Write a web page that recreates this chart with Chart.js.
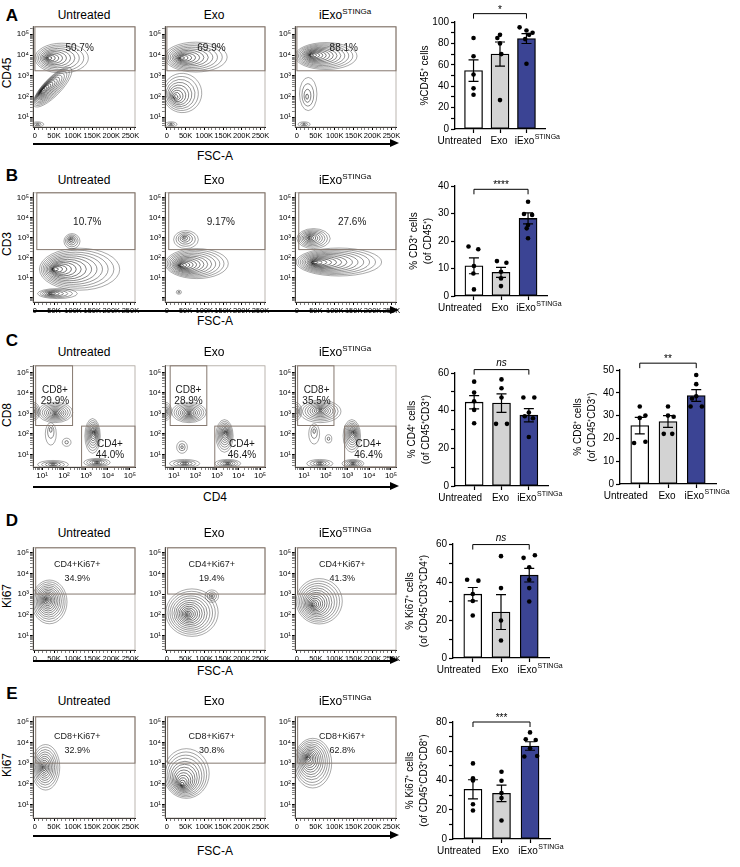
<!DOCTYPE html>
<html>
<head>
<meta charset="utf-8">
<script src="https://cdn.jsdelivr.net/npm/chart.js@4.4.0/dist/chart.umd.min.js"></script>
<style>
  body { margin: 0; background: #fff; font-family: "Liberation Sans", Arial, Helvetica, sans-serif; }
  #fig { position: relative; width: 740px; height: 867px; overflow: hidden; }
  .t { position: absolute; white-space: nowrap; transform: translate(-50%, -50%); line-height: 1; color: #000; }
  .t sup { font-size: 8px; vertical-align: 5px; line-height: 0; }
  .letter { font-weight: bold; font-size: 17px; }
  .ptitle { font-size: 12px; }
  .ylab { font-size: 12px; transform: translate(-50%, -50%) rotate(-90deg); }
  .xlab { font-size: 12px; }
  .arrow { position: absolute; height: 2.5px; background: #000; }
  .arrow::after { content: ''; position: absolute; right: -8px; top: -3.5px;
    border-left: 9px solid #000; border-top: 4.75px solid transparent; border-bottom: 4.75px solid transparent; }
</style>
</head>
<body>
<div id="fig"></div>
<script>
// ---------- data ----------
const groups = ['Untreated', 'Exo', 'iExo'];

// A: %CD45+ cells
const cd45Mean = [54.6, 70, 84.5];
const cd45Sem = [10, 11.3, 4.6];
const cd45Dots = [[85, 68, 51, 38, 32], [88, 85, 80, 70, 27], [95, 92, 90, 88, 84, 61]];
const cd45Offs = [[0, 0, 0, 0, 0], [0, -0.1, 0, 0.05, 0], [-0.26, 0, 0.23, 0.1, -0.05, 0]];

// B: %CD3+ (of CD45+)
const cd3Mean = [11, 8.6, 28.2];
const cd3Sem = [2.9, 1.8, 2];
const cd3Dots = [[18, 17, 10.9, 8.2, 2.4], [12.7, 12.1, 8.8, 6.4, 3.6], [34.3, 29.8, 29.5, 25.8, 24.6, 21]];
const cd3Offs = [[-0.2, 0.16, 0, -0.02, 0], [-0.15, 0.2, 0, 0, 0], [0, -0.15, 0.15, 0, -0.05, 0]];

// C: %CD4+ and %CD8+ (of CD45+CD3+)
const cd4Mean = [44.5, 44, 37.6];
const cd4Sem = [3.5, 4.9, 3.5];
const cd4Dots = [[55.4, 49.6, 45, 40.4, 33.3], [56.6, 51.9, 47, 33, 33], [47, 47, 39, 37, 36, 26]];
const cd4Offs = [[0, 0, 0, 0, 0], [0, 0, 0, -0.2, 0.2], [-0.2, 0.2, 0, -0.15, 0.15, 0]];

const cd8Mean = [25.6, 27.4, 38.8];
const cd8Sem = [3.6, 2.6, 2.6];
const cd8Dots = [[34, 30, 29, 18, 18.5], [34, 30, 29.5, 22, 22], [47.8, 43.8, 38.5, 37.5, 34, 34]];
const cd8Offs = [[0, 0.2, 0, -0.2, 0.2], [0, 0, 0.2, -0.15, 0.15], [0, 0, 0, -0.15, -0.2, 0.2]];

// D: %Ki67+ (of CD45+CD3+CD4+)
const ki4Mean = [33.6, 24.2, 43.6];
const ki4Sem = [3.5, 9.2, 3.6];
const ki4Dots = [[41.2, 40.7, 33.7, 30, 22.4], [53.6, 36.8, 19.7, 9.2], [52.7, 54.1, 47.8, 41.2, 36.8, 29.7]];
const ki4Offs = [[-0.2, 0.2, 0, 0, 0], [0, 0, 0, 0], [-0.2, 0.2, 0, 0, 0, 0]];

// E: %Ki67+ (of CD45+CD3+CD8+)
const ki8Mean = [34, 31.2, 63.6];
const ki8Sem = [6.5, 5.6, 2.9];
const ki8Dots = [[51.7, 41.5, 40, 23.8, 19.5], [46, 39.8, 31.5, 28, 12.7], [72.9, 68.2, 67.7, 62, 56.4, 56.8]];
const ki8Offs = [[0, 0, 0, 0, 0], [0, 0, 0, 0, 0], [0, -0.15, 0.2, 0, -0.2, 0.25]];

// gate percentages shown in the flow plots
const cd45Pct = ['50.7%', '69.9%', '88.1%'];
const cd3Pct = ['10.7%', '9.17%', '27.6%'];
const cd8Pct = ['29.9%', '28.9%', '35.5%'];
const cd4Pct = ['44.0%', '46.4%', '46.4%'];
const ki4Pct = ['34.9%', '19.4%', '41.3%'];
const ki8Pct = ['32.9%', '30.8%', '62.8%'];

// contour populations: [x, y, rx, ry, rot, coreX, coreY, rings]
// FSC in K, fluorescence in log10 units
const blobsA = [
  [[70, 3.85, 70, 0.72, 0, 30, 3.85, 11], [46, 2.45, 69, 0.42, -46, 14, 2.25, 15], [7, 0.66, 16, 0.12, 0, 7, 0.66, 3]],
  [[77, 3.9, 84, 0.72, 0, 32, 3.85, 12], [41, 2.17, 52, 0.95, -30, 19, 1.93, 10], [11, 0.66, 16, 0.12, 0, 11, 0.66, 3]],
  [[77, 3.95, 82, 0.65, 0, 32, 4.0, 14], [30, 2.12, 23, 0.8, 0, 26, 1.95, 4], [19, 0.66, 16, 0.12, 0, 19, 0.66, 3]]
];
const blobsB = [
  [[97, 2.82, 21, 0.38, 0, 94, 2.92, 6], [117, 1.42, 105, 1.05, 0, 43, 1.42, 14], [59, 0.2, 52, 0.25, 0, 38, 0.2, 7]],
  [[51, 2.9, 33, 0.45, 0, 46, 3.0, 6], [80, 1.7, 84, 0.75, 0, 32, 1.6, 14], [32, 0.27, 7, 0.1, 0, 32, 0.27, 2]],
  [[44, 2.95, 44, 0.5, 0, 32, 3.0, 10], [111, 1.78, 113, 0.7, 0, 37, 1.75, 14]]
];
const blobsC = [
  [[1.6, 3.05, 0.8, 0.5, 0, 1.6, 3.0, 10], [0.6, 3.1, 0.3, 0.45, 0, 0.55, 3.1, 7], [1.4, 2.0, 0.25, 0.55, 0, 1.4, 2.3, 3],
   [2.12, 1.59, 0.2, 0.2, 0, 2.12, 1.59, 2], [3.3, 1.9, 0.35, 0.85, 0, 3.35, 2.1, 10], [1.5, 0.5, 0.7, 0.2, 0, 1.5, 0.5, 5], [3.5, 0.6, 0.6, 0.2, 0, 3.5, 0.6, 6]],
  [[1.7, 3.05, 0.8, 0.5, 0, 1.7, 3.0, 10], [0.6, 3.1, 0.3, 0.45, 0, 0.55, 3.1, 7], [1.38, 1.35, 0.25, 0.3, 0, 1.38, 1.35, 3],
   [3.35, 1.9, 0.4, 0.8, 0, 3.4, 2.1, 10], [1.5, 0.55, 0.7, 0.2, 0, 1.5, 0.55, 5], [3.5, 0.55, 0.6, 0.2, 0, 3.5, 0.55, 6]],
  [[1.75, 3.1, 0.95, 0.55, 0, 1.75, 3.15, 10], [0.6, 3.1, 0.3, 0.45, 0, 0.55, 3.1, 6], [1.47, 2.0, 0.25, 0.5, 0, 1.47, 2.2, 3],
   [2.13, 1.76, 0.15, 0.2, 0, 2.13, 1.76, 2], [3.2, 1.9, 0.4, 0.8, 0, 3.25, 2.1, 10], [1.73, 0.55, 0.6, 0.2, 0, 1.73, 0.55, 5], [3.25, 0.55, 0.5, 0.2, 0, 3.25, 0.55, 6]]
];
const blobsD = [
  [[38, 2.62, 46, 1.06, 0, 30, 2.75, 14]],
  [[67, 2.1, 70, 1.15, 0, 54, 2.0, 14], [120, 2.9, 18, 0.3, 0, 120, 2.9, 4]],
  [[59, 2.65, 61, 1.1, 0, 41, 2.45, 14]]
];
const blobsE = [
  [[28, 2.8, 37, 1.1, 0, 22, 2.8, 12]],
  [[52, 2.5, 61, 1.2, 0, 39, 1.9, 14]],
  [[42, 3.0, 50, 1.2, 0, 28, 3.3, 14]]
];

// ---------- drawing ----------
const FONT = '"Liberation Sans", Arial, Helvetica, sans-serif';
Chart.defaults.font.family = FONT;
Chart.defaults.color = '#000';
const fig = document.getElementById('fig');
const SUP = ['⁰', '¹', '²', '³', '⁴', '⁵'];
const BAR_COLORS = ['#ffffff', '#d3d3d3', '#3b4494'];
const PANEL_X = [[33, 135], [165, 265], [295, 396]];
const isInt = v => Math.abs(v - Math.round(v)) < 1e-6;

function addCanvas(left, top, w, h) {
  const c = document.createElement('canvas');
  c.width = w; c.height = h;
  c.style.cssText = `position:absolute;left:${left}px;top:${top}px;width:${w}px;height:${h}px`;
  fig.appendChild(c);
  return c;
}

function addText(cls, html, x, y) {
  const d = document.createElement('div');
  d.className = 't ' + cls;
  d.innerHTML = html;
  d.style.left = x + 'px';
  d.style.top = y + 'px';
  fig.appendChild(d);
}

function logTicks(min, max) {
  const t = [];
  for (let e = Math.floor(min); e <= Math.ceil(max); e++)
    for (let k = 1; k <= 9; k++) {
      const v = e + Math.log10(k);
      if (v >= min && v <= max) t.push(v);
    }
  return t;
}
function fscTicks(min, max) {
  const t = [];
  for (let v = 0; v <= max; v += 10) if (v >= min) t.push(v);
  return t;
}
const logLabel = v => (isInt(v) && v >= 1 && v <= 5) ? '10' + SUP[Math.round(v)] : '';
const fscLabel = v => v === 0 ? '0' : (v % 50 === 0 ? v + 'K' : '');

function flowAxis(range, log, fit, size) {
  return {
    type: 'linear', min: range[0], max: range[1],
    afterBuildTicks: s => { s.ticks = (log ? logTicks : fscTicks)(range[0], range[1]).map(v => ({ value: v })); },
    afterFit: fit,
    ticks: { autoSkip: false, maxRotation: 0, minRotation: 0, padding: 1, color: '#000',
             font: { size }, callback: log ? logLabel : fscLabel },
    grid: { drawOnChartArea: false, tickLength: 3, color: '#000',
            tickWidth: c => c.tick && (log ? isInt(c.tick.value) : c.tick.value % 50 === 0) ? 1 : 0.5 },
    border: { color: '#000', width: 1 }
  };
}

function contourPlugin(p) {
  return {
    id: 'contours',
    beforeDatasetsDraw(chart) {
      const { ctx, chartArea: a, scales: { x, y } } = chart;
      const sx = Math.abs(x.getPixelForValue(1) - x.getPixelForValue(0));
      const sy = Math.abs(y.getPixelForValue(1) - y.getPixelForValue(0));
      ctx.save();
      ctx.beginPath();
      ctx.rect(a.left, a.top, a.right - a.left, a.bottom - a.top);
      ctx.clip();
      p.blobs.forEach(([cx, cy, rx, ry, rot, kx, ky, n]) => {
        for (let k = n; k >= 1; k--) {
          const t = k / n;
          const mx = kx + (cx - kx) * t, my = ky + (cy - ky) * t;
          const f = Math.pow(t, 1.35);
          ctx.beginPath();
          ctx.ellipse(x.getPixelForValue(mx), y.getPixelForValue(my), Math.max(rx * sx * f, 0.6), Math.max(ry * sy * f, 0.6),
                      rot * Math.PI / 180, 0, Math.PI * 2);
          ctx.lineWidth = 0.45 + 0.45 * (1 - t);
          ctx.strokeStyle = 'rgba(30,30,30,0.85)';
          ctx.stroke();
        }
      });
      ctx.restore();
    },
    afterDraw(chart) {
      const { ctx, chartArea: a, scales: { x, y } } = chart;
      ctx.save();
      ctx.strokeStyle = '#aaa29b';
      ctx.lineWidth = 0.8;
      ctx.strokeRect(a.left, a.top, a.right - a.left, a.bottom - a.top);
      ctx.strokeStyle = '#85786f';
      ctx.lineWidth = 1;
      p.gates.forEach(([x1, y1, x2, y2]) => {
        const l = x1 === null ? a.left : x.getPixelForValue(x1);
        const r = x2 === null ? a.right : x.getPixelForValue(x2);
        const b = y1 === null ? a.bottom : y.getPixelForValue(y1);
        const t = y2 === null ? a.top : y.getPixelForValue(y2);
        ctx.strokeRect(l, t, r - l, b - t);
      });
      ctx.fillStyle = '#1a1a1a';
      ctx.textAlign = 'center';
      ctx.textBaseline = 'middle';
      p.labels.forEach(([lx, ly, lines, size, gap]) => {
        ctx.font = `${size}px ${FONT}`;
        const px = x.getPixelForValue(lx), py = y.getPixelForValue(ly);
        lines.forEach((s, i) => ctx.fillText(s, px, py + (i - (lines.length - 1) / 2) * gap));
      });
      ctx.restore();
    }
  };
}

function flowPanel(p) {
  const c = addCanvas(p.left - 28, p.top - 3, p.right - p.left + 32, p.bottom - p.top + 16);
  new Chart(c, {
    type: 'scatter',
    data: { datasets: [{ data: [] }] },
    options: {
      responsive: false, animation: false, events: [],
      layout: { padding: { top: 3, right: 4, left: 0, bottom: 0 } },
      plugins: { legend: { display: false }, tooltip: { enabled: false } },
      scales: {
        x: flowAxis(p.xr, p.logX, s => { s.height = 13; }, p.logX ? 8 : 7.5),
        y: flowAxis(p.yr, true, s => { s.width = 28; }, 8)
      }
    },
    plugins: [contourPlugin(p)]
  });
}

function barExtras(p) {
  return {
    id: 'barExtras',
    afterDatasetsDraw(chart) {
      const { ctx, scales: { x, y } } = chart;
      ctx.save();
      ctx.strokeStyle = '#000';
      ctx.lineWidth = 1.2;
      p.means.forEach((m, i) => {
        const px = x.getPixelForValue(i);
        const yt = y.getPixelForValue(m + p.sems[i]), yb = y.getPixelForValue(m - p.sems[i]);
        ctx.beginPath();
        ctx.moveTo(px, yt); ctx.lineTo(px, yb);
        ctx.moveTo(px - 5, yt); ctx.lineTo(px + 5, yt);
        ctx.moveTo(px - 5, yb); ctx.lineTo(px + 5, yb);
        ctx.stroke();
      });
      ctx.restore();
    },
    afterDraw(chart) {
      const { ctx, scales: { x, y } } = chart;
      ctx.save();
      ctx.fillStyle = '#000';
      ctx.textBaseline = 'middle';
      // category labels, iExo with superscript
      const shift = [-14, -1, -2];
      groups.forEach((g, i) => {
        const px = x.getPixelForValue(i) + shift[i], py = x.top + 12;
        ctx.font = `10px ${FONT}`;
        ctx.textAlign = 'center';
        ctx.fillText(g, px, py);
        if (g === 'iExo') {
          const w = ctx.measureText(g).width;
          ctx.font = `7px ${FONT}`;
          ctx.textAlign = 'left';
          ctx.fillText('STINGa', px + w / 2 + 0.5, py - 4);
        }
      });
      // significance bracket
      const by = y.getPixelForValue(p.sigY);
      const x0 = x.getPixelForValue(0), x2 = x.getPixelForValue(2);
      ctx.strokeStyle = '#000';
      ctx.lineWidth = 1;
      ctx.beginPath();
      ctx.moveTo(x0, by + 5); ctx.lineTo(x0, by); ctx.lineTo(x2, by); ctx.lineTo(x2, by + 5);
      ctx.stroke();
      ctx.textAlign = 'center';
      ctx.textBaseline = 'alphabetic';
      if (p.sig === 'ns') {
        ctx.font = `italic 10px ${FONT}`;
        ctx.fillText('ns', (x0 + x2) / 2, by - 4);
      } else {
        ctx.font = `10px ${FONT}`;
        ctx.fillText(p.sig, (x0 + x2) / 2, by - 1);
      }
      ctx.restore();
    }
  };
}

function barPanel(p) {
  const padTop = Math.min(p.t, 26);
  const c = addCanvas(p.cl, p.t - padTop, p.r - p.cl + 26, p.b - p.t + padTop + 24);
  const dotsData = p.dots.flatMap((arr, g) => arr.map((v, i) => ({ x: g + p.offs[g][i], y: v })));
  new Chart(c, {
    type: 'bar',
    data: {
      datasets: [
        { type: 'scatter', data: dotsData, pointRadius: 2.3, backgroundColor: '#000', pointBackgroundColor: '#000', borderWidth: 0, pointBorderWidth: 0, order: 0 },
        { type: 'bar', data: p.means.map((m, i) => ({ x: i, y: m })), backgroundColor: BAR_COLORS,
          borderColor: '#000', borderWidth: 1.3, borderSkipped: false, barThickness: 18, order: 1 }
      ]
    },
    options: {
      responsive: false, animation: false, events: [],
      layout: { padding: { top: padTop, right: 26, left: 0, bottom: 0 } },
      plugins: { legend: { display: false }, tooltip: { enabled: false } },
      scales: {
        x: {
          type: 'linear', offset: false, min: -0.7, max: 2.7,
          afterBuildTicks: s => { s.ticks = [0, 1, 2].map(v => ({ value: v })); },
          ticks: { display: false },
          grid: { offset: false, drawOnChartArea: false, tickLength: 4, color: '#000', tickWidth: 1.2 },
          border: { color: '#000', width: 1.3 },
          afterFit: s => { s.height = 24; }
        },
        y: {
          type: 'linear', min: 0, max: p.ymax,
          afterBuildTicks: s => {
            const t = [];
            for (let v = 0; v <= p.ymax + 1e-9; v += p.minor) t.push({ value: v });
            s.ticks = t;
          },
          ticks: { autoSkip: false, padding: 2, color: '#000', font: { size: 10 },
                   callback: v => (v % p.step === 0 ? String(v) : '') },
          grid: { drawOnChartArea: false, tickLength: 4, color: '#000', tickWidth: 1.2 },
          border: { color: '#000', width: 1.3 },
          title: { display: true, text: p.title, color: '#000', font: { size: 10, lineHeight: 1.4 },
                   padding: { top: p.titlePad, bottom: 0 } },
          afterFit: s => { s.width = p.l - p.cl; }
        }
      }
    },
    plugins: [barExtras(p)]
  });
}

// ---------- rows of flow plots ----------
const FSC = [-5, 262];
const rows = [
  { letter: 'A', ly: 15, ty: 15, top: 24, bottom: 127, yr: [0.53, 5.36], xr: FSC, logX: false, blobs: blobsA,
    ylab: 'CD45', yly: 73, xlab: 'FSC-A', ay: 144, xly: 156,
    gates: () => [[0, 3.24, null, null]],
    labels: i => [[[117, 119, 124][i], 4.33, [cd45Pct[i]], 10, 11]] },
  { letter: 'B', ly: 175, ty: 180, top: 190, bottom: 302, yr: [-0.22, 5.24], xr: FSC, logX: false, blobs: blobsB,
    ylab: 'CD3', yly: 244, xlab: 'FSC-A', ay: 311, xly: 321,
    gates: () => [[5, 2.4, null, null]],
    labels: i => [[[137, 144, 146][i], 3.78, [cd3Pct[i]], 10, 11]] },
  { letter: 'C', ly: 340, ty: 352, top: 363, bottom: 467, yr: [0.38, 5.33], xr: [0.59, 5.23], logX: true, blobs: blobsC,
    ylab: 'CD8', yly: 415, xlab: 'CD4', ay: 487, xly: 497,
    gates: i => [[[0.71, 0.83, 0.71][i], 2.41, [2.39, 2.53, 2.38][i], null], [[2.8, 2.9, 2.87][i], null, null, 2.38]],
    labels: i => [[[1.59, 1.68, 1.58][i], 3.87, ['CD8+', cd8Pct[i]], 10, 11],
                  [[4.09, 4.16, 3.96][i], 1.23, ['CD4+', cd4Pct[i]], 10, 11]] },
  { letter: 'D', ly: 520, ty: 533, top: 545, bottom: 650, yr: [0.29, 5.24], xr: FSC, logX: false, blobs: blobsD,
    ylab: 'Ki67', yly: 596, xlab: 'FSC-A', ay: 661, xly: 671,
    gates: () => [[2, 3, null, null]],
    labels: i => [[[111, 120, 120][i], 4.1, ['CD4+Ki67+', ki4Pct[i]], 9, 14]] },
  { letter: 'E', ly: 693, ty: 701, top: 714, bottom: 818, yr: [0.35, 5.24], xr: FSC, logX: false, blobs: blobsE,
    ylab: 'Ki67', yly: 765, xlab: 'FSC-A', ay: 836, xly: 851,
    gates: () => [[2, 3, null, null]],
    labels: i => [[[111, 120, 120][i], 3.95, ['CD8+Ki67+', ki8Pct[i]], 9, 14]] }
];

const titles = ['Untreated', 'Exo', 'iExo<sup>STINGa</sup>'];
const titleX = [84, 214, 345];

rows.forEach(r => {
  addText('letter', r.letter, 12, r.ly);
  titles.forEach((t, i) => addText('ptitle', t, titleX[i], r.ty));
  addText('ylab', r.ylab, 7, r.yly);
  const ar = document.createElement('div');
  ar.className = 'arrow';
  ar.style.cssText = `left:33px;top:${r.ay - 1.25}px;width:358px`;
  fig.appendChild(ar);
  addText('xlab', r.xlab, 215, r.xly);
  PANEL_X.forEach(([left, right], i) => {
    flowPanel({ left, right, top: r.top, bottom: r.bottom, xr: r.xr, yr: r.yr, logX: r.logX,
                blobs: r.blobs[i], gates: r.gates(i), labels: r.labels(i) });
  });
});

// ---------- bar charts ----------
barPanel({ l: 455, r: 545, t: 22, b: 129, cl: 405, ymax: 100, step: 20, minor: 10, title: '%CD45⁺ cells', titlePad: 13,
           means: cd45Mean, sems: cd45Sem, dots: cd45Dots, offs: cd45Offs, sigY: 107.8, sig: '*' });
barPanel({ l: 455, r: 547, t: 186, b: 296, cl: 405, ymax: 40, step: 10, minor: 10, title: ['% CD3⁺ cells', '(of CD45⁺)'], titlePad: 2,
           means: cd3Mean, sems: cd3Sem, dots: cd3Dots, offs: cd3Offs, sigY: 38.8, sig: '****' });
barPanel({ l: 455, r: 548, t: 373, b: 486, cl: 405, ymax: 60, step: 20, minor: 10, title: ['% CD4⁺ cells', '(of CD45⁺CD3⁺)'], titlePad: 0,
           means: cd4Mean, sems: cd4Sem, dots: cd4Dots, offs: cd4Offs, sigY: 61.8, sig: 'ns' });
barPanel({ l: 620, r: 716, t: 370, b: 484, cl: 570, ymax: 50, step: 10, minor: 10, title: ['% CD8⁺ cells', '(of CD45⁺CD3⁺)'], titlePad: 1,
           means: cd8Mean, sems: cd8Sem, dots: cd8Dots, offs: cd8Offs, sigY: 53, sig: '**' });
barPanel({ l: 453, r: 549, t: 544, b: 658, cl: 403, ymax: 60, step: 20, minor: 10, title: ['% Ki67⁺ cells', '(of CD45⁺CD3⁺CD4⁺)'], titlePad: 0,
           means: ki4Mean, sems: ki4Sem, dots: ki4Dots, offs: ki4Offs, sigY: 59.7, sig: 'ns' });
barPanel({ l: 453, r: 550, t: 722, b: 839, cl: 403, ymax: 80, step: 20, minor: 10, title: ['% Ki67⁺ cells', '(of CD45⁺CD3⁺CD8⁺)'], titlePad: 0,
           means: ki8Mean, sems: ki8Sem, dots: ki8Dots, offs: ki8Offs, sigY: 80, sig: '***' });
</script>
</body>
</html>
